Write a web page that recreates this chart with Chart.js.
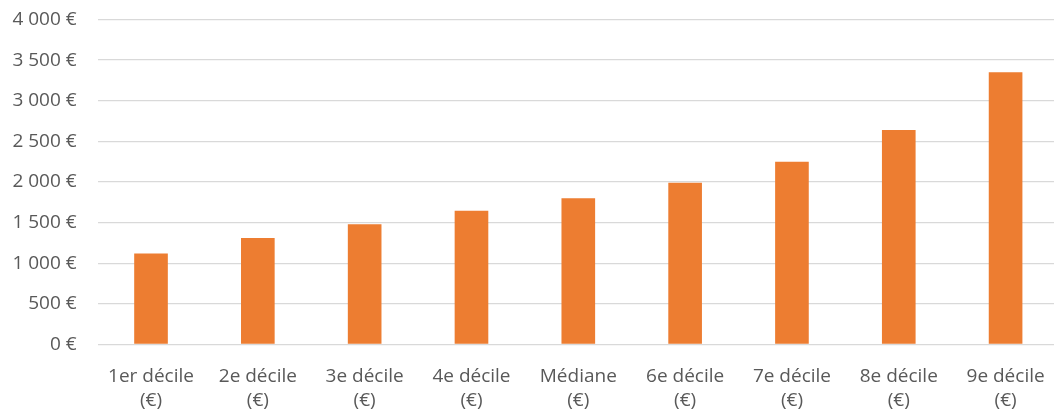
<!DOCTYPE html>
<html lang="fr">
<head>
<meta charset="utf-8">
<script src="https://cdn.jsdelivr.net/npm/chart.js@4/dist/chart.umd.min.js"></script>
<style>
  html, body { margin: 0; padding: 0; background: #fff; overflow: hidden; }
  canvas { display: block; }
</style>
</head>
<body>
<canvas id="chart" width="1059" height="412"></canvas>
<script>
// Salaire mensuel net par décile
const categories = [
  ['1er décile', '(€)'], ['2e décile', '(€)'], ['3e décile', '(€)'],
  ['4e décile', '(€)'], ['Médiane', '(€)'], ['6e décile', '(€)'],
  ['7e décile', '(€)'], ['8e décile', '(€)'], ['9e décile', '(€)']
];
const values = [1120, 1310, 1480, 1645, 1800, 1990, 2250, 2640, 3350];
const yTicks = [0, 500, 1000, 1500, 2000, 2500, 3000, 3500, 4000];

const fmtEuro = v => String(v).replace(/\B(?=(\d{3})+(?!\d))/g, ' ') + ' €';

const textColor = '#595959';
const fontFamily = '"Open Sans", "Noto Sans", sans-serif';

new Chart(document.getElementById('chart'), {
  type: 'bar',
  data: {
    labels: categories,
    datasets: [{
      data: values,
      backgroundColor: '#ED7D31',
      borderWidth: 0,
      categoryPercentage: 1,
      barPercentage: 0.315
    }]
  },
  options: {
    responsive: false,
    animation: false,
    layout: { padding: { top: 19.5, right: 0, left: 0, bottom: 0 } },
    plugins: { legend: { display: false }, tooltip: { enabled: false } },
    scales: {
      x: {
        grid: { display: false, drawTicks: false },
        border: { display: false },
        ticks: {
          color: textColor,
          font: { family: fontFamily, size: 19, lineHeight: 1.28 },
          padding: 20,
          maxRotation: 0,
          autoSkip: false
        },
        afterFit: s => {
          s.height = 67.5;
          s.paddingLeft = 0;
          s.paddingRight = 0;
        }
      },
      y: {
        min: 0,
        max: 4000,
        afterBuildTicks: s => { s.ticks = yTicks.map(v => ({ value: v })); },
        grid: { color: '#d9d9d9', lineWidth: 1.3, drawTicks: false },
        border: { display: false },
        ticks: {
          color: textColor,
          font: { family: fontFamily, size: 19 },
          padding: 21,
          callback: v => fmtEuro(v)
        },
        afterFit: s => {
          s.width = 97.6;
          s.paddingTop = 0;
          s.paddingBottom = 0;
        }
      }
    }
  }
});
</script>
</body>
</html>
